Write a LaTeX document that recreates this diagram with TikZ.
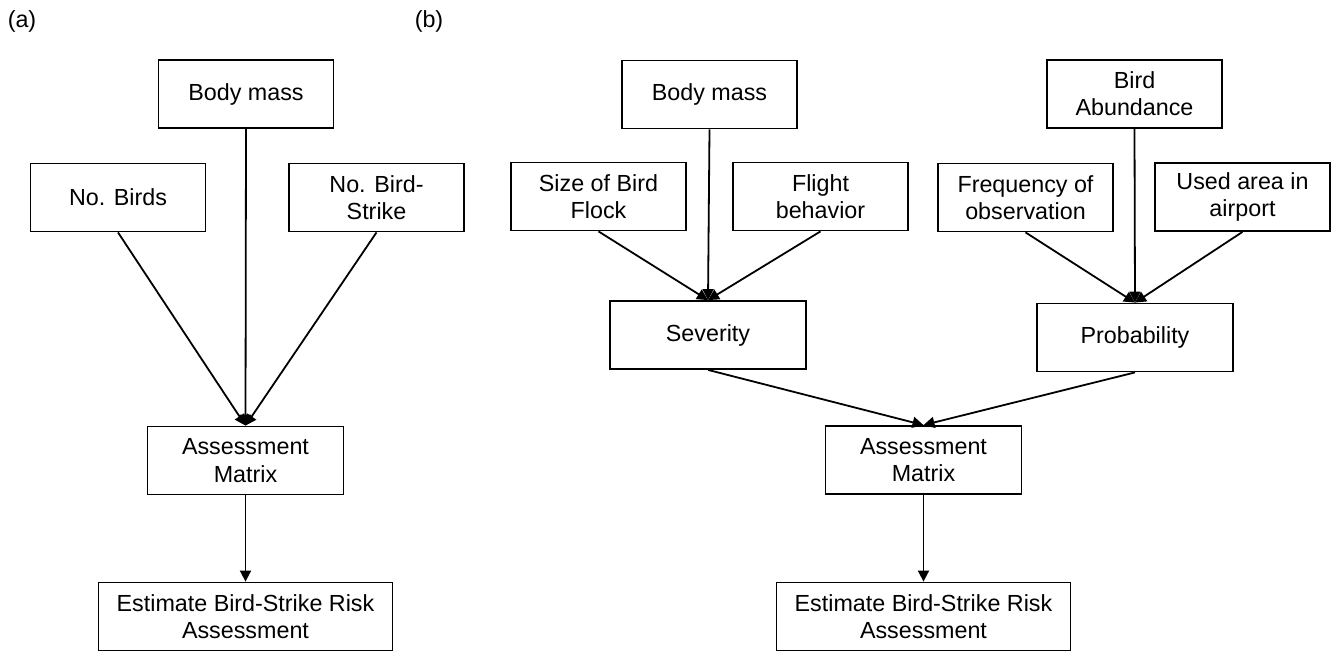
\documentclass[tikz,border=0pt]{standalone}
\usepackage{fontspec}
\setmainfont{Liberation Sans}
\usetikzlibrary{arrows.meta}

\begin{document}
\begin{tikzpicture}
[x=0.5pt, y=-0.5pt, line width=0.9pt,
 every node/.style={align=center, font=\fontsize{11.65}{13.65}\selectfont},
 nodeBox/.style={draw, minimum width=87.5pt, minimum height=34pt, inner sep=0pt},
 nodeMid/.style={nodeBox, minimum width=98pt},
 nodeEst/.style={nodeBox, minimum width=147pt},
 link/.style={-{Triangle[length=5.5pt, width=5.5pt]}}
]
\useasboundingbox (0,0) rectangle (1334,652);
\node (la) at (22, 21) {(a)};
\node (lb) at (429, 21) {(b)};
\node[nodeBox] (bmA)  at (246, 94)    {Body mass};
\node[nodeBox] (nbA)  at (118, 197.5) {No. Birds};
\node[nodeBox] (nbsA) at (376.5, 197.5) {No. Bird-\\Strike};
\node[nodeMid] (amA)  at (245.5, 460.5) {Assessment\\Matrix};
\node[nodeEst] (estA) at (245.5, 616.5) {Estimate Bird-Strike Risk\\Assessment};
\node[nodeBox] (bmB)  at (709.5, 94.5)  {Body mass};
\node[nodeBox] (abB)  at (1134.5, 94)   {Bird\\Abundance};
\node[nodeBox] (sfB)  at (598.5, 196.5) {Size of Bird\\Flock};
\node[nodeBox] (fbB)  at (820.5, 196.5) {Flight\\behavior};
\node[nodeBox] (foB)  at (1025.5, 197.5) {Frequency of\\observation};
\node[nodeBox] (uaB)  at (1242.5, 197)  {Used area in\\airport};
\node[nodeMid] (sevB) at (708, 335)     {Severity};
\node[nodeMid] (prB)  at (1135, 337.5)  {Probability};
\node[nodeMid] (amB)  at (923.5, 460)   {Assessment\\Matrix};
\node[nodeEst] (estB) at (923.5, 616.5) {Estimate Bird-Strike Risk\\Assessment};
\draw[link] (nbA.south) -- (amA.north);
\draw[link] (bmA.south) -- (amA.north);
\draw[link] (nbsA.south) -- (amA.north);
\draw[link] (amA) -- (estA);
\draw[link] (sfB.south) -- (sevB.north);
\draw[link] (bmB.south) -- (sevB.north);
\draw[link] (fbB.south) -- (sevB.north);
\draw[link] (foB.south) -- (prB.north);
\draw[link] (abB.south) -- (prB.north);
\draw[link] (uaB.south) -- (prB.north);
\draw[link] (sevB.south) -- (amB.north);
\draw[link] (prB.south) -- (amB.north);
\draw[link] (amB) -- (estB);
\end{tikzpicture}
\end{document}
